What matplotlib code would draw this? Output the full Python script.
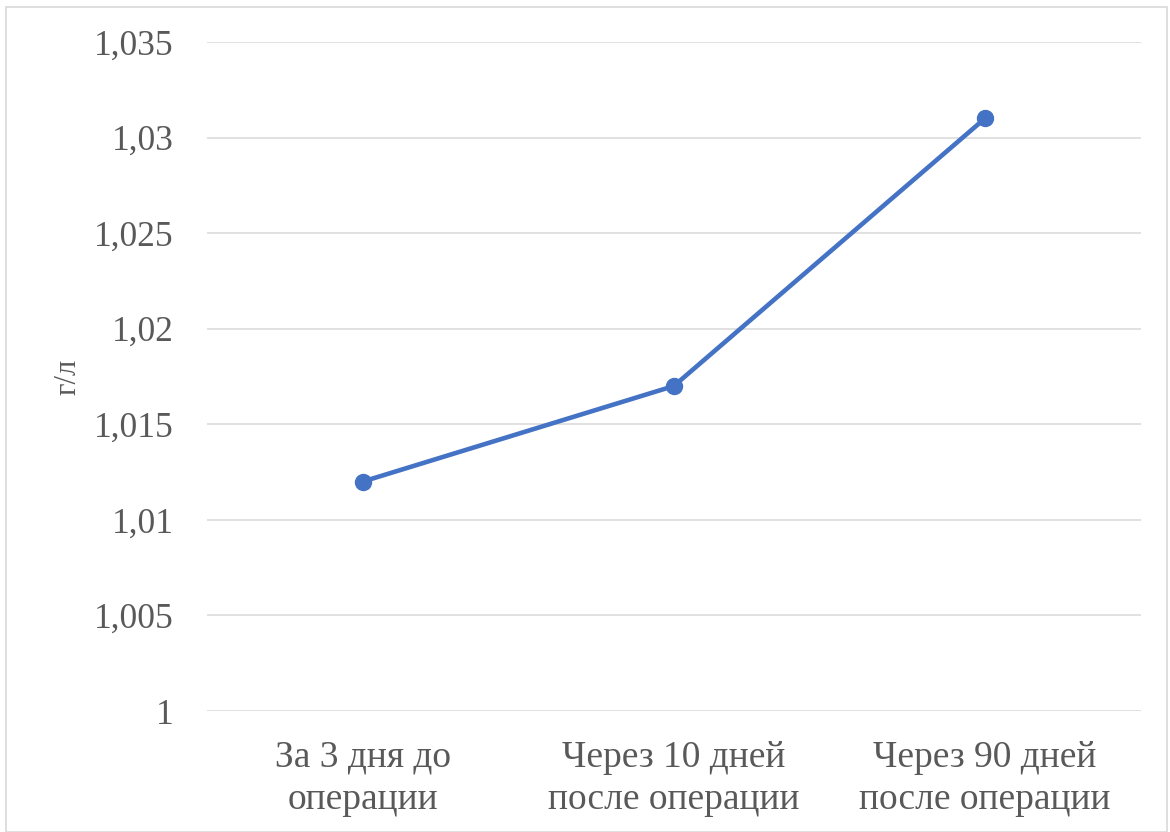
import matplotlib
matplotlib.use("Agg")
import matplotlib.pyplot as plt
from matplotlib.patches import Rectangle
from matplotlib.ticker import FuncFormatter

categories = ["За 3 дня до\nоперации", "Через 10 дней\nпосле операции", "Через 90 дней\nпосле операции"]
values = [1.012, 1.017, 1.031]
y_ticks = [1.0, 1.005, 1.01, 1.015, 1.02, 1.025, 1.03, 1.035]
y_label = "г/л"

plt.rcParams["font.family"] = ["Liberation Serif", "DejaVu Serif"]
text_color = "#595959"

W, H = 1170, 832
left_px, right_px, bottom_px, top_px = 207, 1140.5, 711, 42
fig = plt.figure(figsize=(W / 100, H / 100), dpi=100)
ax = fig.add_axes([left_px / W, 1 - bottom_px / H, (right_px - left_px) / W, (bottom_px - top_px) / H])

x = list(range(len(categories)))
ax.plot(x, values, color="#4472C4", lw=3.3, marker="o", markersize=11.5,
        solid_capstyle="round", zorder=3)

ax.set_xlim(-0.5, len(categories) - 0.5)
ax.set_ylim(y_ticks[0], y_ticks[-1])
ax.set_yticks(y_ticks)
ax.set_xticks(x)
ax.set_xticklabels(categories, fontsize=27, color=text_color, linespacing=1.28)


def fmt(v, _):
    s = f"{v:.3f}".rstrip("0").rstrip(".")
    return s.replace(".", ",")


ax.yaxis.set_major_formatter(FuncFormatter(fmt))
ax.tick_params(axis="y", labelsize=25.5, labelcolor=text_color, length=0, pad=24)
ax.tick_params(axis="x", length=0, pad=21)
ax.grid(axis="y", color="#D9D9D9", lw=1.1)
ax.set_axisbelow(True)
for s in ax.spines.values():
    s.set_visible(False)

ax.set_ylabel(y_label, fontsize=22, color=text_color)
ax.yaxis.set_label_coords((82 - left_px) / (right_px - left_px), 0.5)

fig.patches.append(Rectangle((6 / W, 0), (1167 - 6) / W, 1 - 7 / H, transform=fig.transFigure,
                             fill=False, edgecolor="#D9D9D9", lw=1.2))

fig.savefig("out.png", dpi=100)
